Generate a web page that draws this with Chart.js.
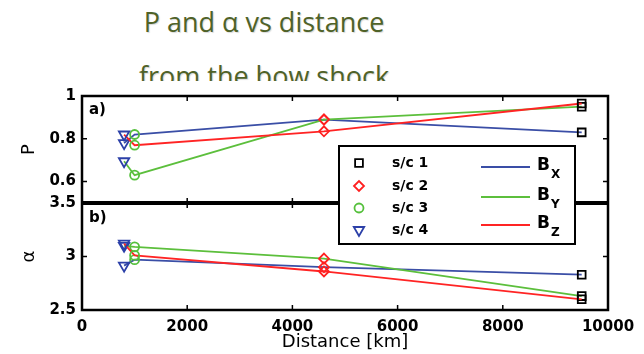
<!DOCTYPE html>
<html>
<head>
<meta charset="utf-8">
<script src="https://cdn.jsdelivr.net/npm/chart.js@4.4.1/dist/chart.umd.min.js"></script>
<style>
  html, body { margin: 0; padding: 0; background: #fff; }
  #wrap { position: relative; width: 644px; height: 354px; overflow: hidden; }
  .ttl {
    position: absolute; left: 0; width: 528px; text-align: center;
    font-family: "Open Sans", sans-serif; font-size: 27px; line-height: 50px;
    color: #4f6228; text-shadow: 1px 1px 1px rgba(0,0,0,0.15); white-space: nowrap;
  }
  #c { position: absolute; left: 0; top: 81px; background: #fff; }
</style>
</head>
<body>
<div id="wrap">
  <div class="ttl" style="top:-3px">P and α vs distance</div>
  <div class="ttl" style="top:51px">from the bow shock</div>
  <canvas id="c" width="644" height="273"></canvas>
</div>
<script>
// Spacecraft and their distance from the bow shock
const spacecraft = ['s/c 1', 's/c 2', 's/c 3', 's/c 4'];
const distanceKm = [9500, 4600, 1000, 800];

// Field components
const components = ['X', 'Y', 'Z'];

// Panel a): P per component, in spacecraft order
const pBx = [0.83, 0.89, 0.82, 0.78];
const pBy = [0.95, 0.89, 0.63, 0.695];
const pBz = [0.965, 0.835, 0.77, 0.82];

// Panel b): alpha per component, in spacecraft order
const alphaBx = [2.83, 2.90, 2.97, 2.915];
const alphaBy = [2.63, 2.98, 3.09, 3.10];
const alphaBz = [2.60, 2.86, 3.01, 3.12];

// Axis ticks
const xTicks = [0, 2000, 4000, 6000, 8000, 10000];
const pTicks = [0.6, 0.8, 1];
const alphaTicks = [2.5, 3, 3.5];

// ---- styling ----
const compColor = { X: '#3a4ea6', Y: '#5cbf3c', Z: '#ff2424' };
const scStyle = [
  { style: 'rect',     color: '#000000', r: 5.5, rot: 0 },
  { style: 'rectRot',  color: '#ff2020', r: 5,   rot: 0 },
  { style: 'circle',   color: '#55c03c', r: 4.5, rot: 0 },
  { style: 'triangle', color: '#2c40a8', r: 6,   rot: 180 }
];
const FONT = '"DejaVu Sans", sans-serif';
const tickFont = { family: FONT, size: 15, weight: 'bold' };
const plainNumber = v => String(v);

function series(comp, values, axis) {
  return {
    label: 'B' + comp,
    data: distanceKm.map((d, i) => ({ x: d, y: values[i] })),
    yAxisID: axis,
    borderColor: compColor[comp],
    borderWidth: 1.8,
    tension: 0,
    fill: false,
    clip: false,
    pointStyle: scStyle.map(s => s.style),
    pointRadius: scStyle.map(s => s.r),
    pointRotation: scStyle.map(s => s.rot),
    pointBorderColor: scStyle.map(s => s.color),
    pointBackgroundColor: 'rgba(0,0,0,0)',
    pointBorderWidth: 1.8
  };
}

const pValues = { X: pBx, Y: pBy, Z: pBz };
const alphaValues = { X: alphaBx, Y: alphaBy, Z: alphaBz };
const datasets = [];
['Z', 'Y', 'X'].forEach(c => datasets.push(series(c, pValues[c], 'yP')));
['Z', 'Y', 'X'].forEach(c => datasets.push(series(c, alphaValues[c], 'yA')));

function drawMarker(ctx, s, x, y) {
  ctx.save();
  ctx.strokeStyle = s.color;
  ctx.fillStyle = 'rgba(0,0,0,0)';
  ctx.lineWidth = 1.8;
  Chart.helpers.drawPoint(ctx, { pointStyle: s.style, radius: s.r, rotation: s.rot, borderWidth: 1.8 }, x, y);
  ctx.restore();
}

// Box frames, inward tick marks, panel tags and the legend
const panelFrame = {
  id: 'panelFrame',
  afterDraw(chart) {
    const { ctx } = chart;
    const { x, yP, yA } = chart.scales;
    const L = x.left, R = x.right;
    const tk = 5;
    ctx.save();
    ctx.strokeStyle = '#000';
    ctx.lineWidth = 1.5;
    ctx.beginPath();
    xTicks.slice(1, -1).forEach(v => {
      const px = x.getPixelForValue(v);
      ctx.moveTo(px, yP.top); ctx.lineTo(px, yP.top + tk);
      ctx.moveTo(px, yP.bottom - tk); ctx.lineTo(px, yA.top + tk);
      ctx.moveTo(px, yA.bottom); ctx.lineTo(px, yA.bottom - tk);
    });
    [[yP, pTicks], [yA, alphaTicks]].forEach(([s, t]) => t.forEach(v => {
      if (v === s.min || v === s.max) return;
      const py = s.getPixelForValue(v);
      ctx.moveTo(L, py); ctx.lineTo(L + tk, py);
      ctx.moveTo(R, py); ctx.lineTo(R - tk, py);
    }));
    ctx.stroke();

    ctx.lineWidth = 2.5;
    ctx.strokeRect(L, yP.top, R - L, yA.bottom - yP.top);
    ctx.lineWidth = 4;
    ctx.beginPath();
    ctx.moveTo(L, yP.bottom); ctx.lineTo(R, yP.bottom);
    ctx.stroke();

    ctx.fillStyle = '#000';
    ctx.font = 'bold 15px ' + FONT;
    ctx.textAlign = 'left';
    ctx.textBaseline = 'middle';
    ctx.fillText('a)', L + 7, yP.top + 14);
    ctx.fillText('b)', L + 7, yA.top + 15);

    // legend
    const bx = 339, by = 65, bw = 236, bh = 98;
    ctx.fillStyle = '#fff';
    ctx.fillRect(bx, by, bw, bh);
    ctx.lineWidth = 2;
    ctx.strokeStyle = '#000';
    ctx.strokeRect(bx, by, bw, bh);

    const rows = [82, 105, 127, 149];
    spacecraft.forEach((name, i) => {
      drawMarker(ctx, scStyle[i], 359, rows[i]);
      ctx.fillStyle = '#000';
      ctx.font = 'bold 14px ' + FONT;
      ctx.textAlign = 'left';
      ctx.textBaseline = 'middle';
      ctx.fillText(name, 392, rows[i]);
    });

    const lrows = [86, 116, 144];
    components.forEach((c, i) => {
      const ly = lrows[i];
      ctx.strokeStyle = compColor[c];
      ctx.lineWidth = 1.8;
      ctx.beginPath();
      ctx.moveTo(481, ly); ctx.lineTo(530, ly);
      ctx.stroke();
      ctx.fillStyle = '#000';
      ctx.textBaseline = 'alphabetic';
      ctx.font = 'bold 17px ' + FONT;
      ctx.fillText('B', 537, ly + 3);
      const w = ctx.measureText('B').width;
      ctx.font = 'bold 12px ' + FONT;
      ctx.fillText(c, 537 + w + 1, ly + 11);
    });
    ctx.restore();
  }
};

new Chart(document.getElementById('c'), {
  type: 'line',
  data: { datasets },
  options: {
    responsive: false,
    animation: false,
    devicePixelRatio: 1,
    events: [],
    layout: { padding: { left: 0, right: 36, top: 8, bottom: 0 } },
    plugins: { legend: { display: false }, tooltip: { enabled: false } },
    scales: {
      x: {
        type: 'linear', min: 0, max: 10000,
        afterBuildTicks: s => { s.ticks = xTicks.map(v => ({ value: v })); },
        ticks: { font: tickFont, color: '#000', padding: 8, maxRotation: 0, autoSkip: false, callback: plainNumber },
        grid: { display: false, drawTicks: false },
        border: { display: false },
        title: { display: true, text: 'Distance [km]', color: '#000',
                 font: { family: FONT, size: 18 }, padding: { top: 0, bottom: 1 } },
        afterFit: s => { s.height = 44; }
      },
      yA: {
        type: 'linear', position: 'left', stack: 'panels', stackWeight: 1,
        min: 2.5, max: 3.5,
        afterBuildTicks: s => { s.ticks = alphaTicks.map(v => ({ value: v })); },
        ticks: { font: tickFont, color: '#000', padding: 6, autoSkip: false, callback: plainNumber },
        grid: { display: false, drawTicks: false },
        border: { display: false },
        title: { display: true, text: 'α', color: '#000',
                 font: { family: FONT, size: 18 }, padding: { top: 19, bottom: 0 } },
        afterFit: s => { s.width = 82; }
      },
      yP: {
        type: 'linear', position: 'left', stack: 'panels', stackWeight: 1,
        min: 0.5, max: 1,
        afterBuildTicks: s => { s.ticks = pTicks.map(v => ({ value: v })); },
        ticks: { font: tickFont, color: '#000', padding: 6, autoSkip: false, callback: plainNumber },
        grid: { display: false, drawTicks: false },
        border: { display: false },
        title: { display: true, text: 'P', color: '#000',
                 font: { family: FONT, size: 18 }, padding: { top: 19, bottom: 0 } },
        afterFit: s => { s.width = 82; }
      }
    }
  },
  plugins: [panelFrame]
});
</script>
</body>
</html>
